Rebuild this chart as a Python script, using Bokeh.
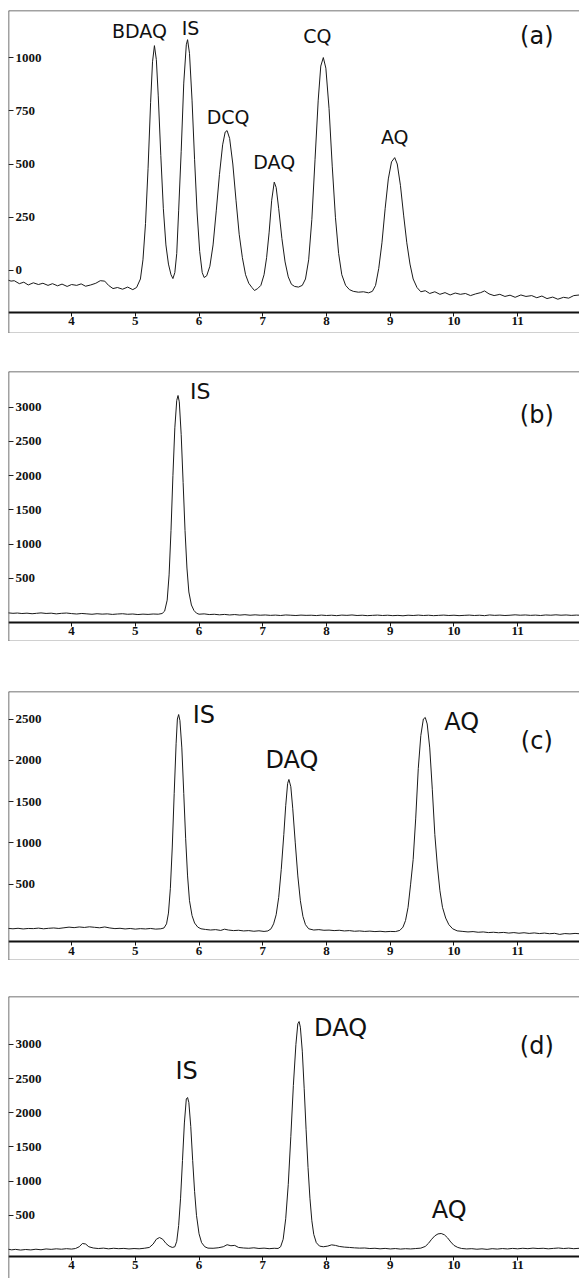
from bokeh.plotting import figure
from bokeh.models import Range1d, LinearAxis, FixedTicker, Span, Label, ColumnDataSource, Grid
from bokeh.layouts import column
from bokeh.embed import file_html
from bokeh.resources import INLINE
from bokeh.core.properties import value

# ---------------- data ----------------
x_ticks = [4, 5, 6, 7, 8, 9, 10, 11]
y_ticks_a = [0, 250, 500, 750, 1000]
y_ticks_b = [500, 1000, 1500, 2000, 2500, 3000]
y_ticks_c = [500, 1000, 1500, 2000, 2500]
y_ticks_d = [500, 1000, 1500, 2000, 2500, 3000]

# (time in min, detector signal)
trace_a = [
    (3.00, -45), (3.05, -50), (3.10, -48), (3.18, -62), (3.25, -55), (3.32, -68), (3.40, -58),
    (3.48, -66), (3.55, -60), (3.63, -70), (3.70, -62), (3.78, -72), (3.85, -64), (3.93, -75),
    (4.00, -66), (4.08, -70), (4.15, -63), (4.22, -74), (4.30, -68), (4.38, -60), (4.45, -48),
    (4.52, -50), (4.58, -70), (4.65, -85), (4.72, -80), (4.80, -88), (4.88, -78), (4.96, -90),
    (5.02, -80), (5.08, -40),
    (5.12, 50), (5.16, 220), (5.20, 480), (5.24, 790), (5.27, 980), (5.30, 1056), (5.33, 990),
    (5.36, 820), (5.40, 540), (5.44, 290), (5.48, 120), (5.52, 30), (5.56, -20), (5.59, -38),
    (5.62, -10), (5.65, 80), (5.68, 280), (5.72, 560), (5.76, 880), (5.80, 1060), (5.82, 1084),
    (5.85, 1020), (5.89, 800), (5.93, 520), (5.97, 270), (6.01, 90), (6.05, -10), (6.08, -33),
    (6.12, -25), (6.17, 20), (6.22, 120), (6.27, 280), (6.32, 450), (6.37, 590), (6.41, 650),
    (6.44, 657), (6.48, 620), (6.53, 500), (6.58, 330), (6.63, 170), (6.68, 60), (6.73, -20),
    (6.78, -60), (6.83, -80), (6.87, -94), (6.92, -85),
    (6.97, -70), (7.02, -20), (7.06, 60), (7.10, 180), (7.14, 330), (7.18, 415), (7.21, 390),
    (7.25, 290), (7.30, 150), (7.35, 40), (7.40, -30), (7.45, -65), (7.50, -75), (7.56, -78),
    (7.62, -70),
    (7.67, -40), (7.72, 50), (7.77, 240), (7.82, 520), (7.87, 800), (7.91, 960), (7.95, 1000),
    (7.99, 950), (8.04, 760), (8.09, 490), (8.14, 250), (8.19, 80), (8.24, -20), (8.30, -70),
    (8.36, -90), (8.42, -98), (8.50, -102), (8.58, -100), (8.66, -105), (8.72, -98),
    (8.77, -70), (8.82, 10), (8.87, 130), (8.92, 290), (8.97, 430), (9.02, 510), (9.07, 530),
    (9.11, 500), (9.16, 400), (9.21, 260), (9.26, 130), (9.31, 30), (9.36, -40), (9.42, -80),
    (9.48, -100),
    (9.55, -95), (9.62, -108), (9.70, -100), (9.78, -112), (9.86, -104), (9.94, -115),
    (10.02, -106), (10.10, -112), (10.18, -108), (10.26, -118), (10.34, -110), (10.42, -104),
    (10.48, -96), (10.55, -110), (10.63, -118), (10.72, -112), (10.80, -122), (10.88, -116),
    (10.96, -126), (11.05, -115), (11.13, -122), (11.22, -118), (11.30, -128), (11.38, -120),
    (11.46, -132), (11.55, -125), (11.63, -135), (11.72, -126), (11.80, -130), (11.88, -118),
    (11.97, -115),
]

trace_b = [
    (3.00, -5), (3.08, -12), (3.15, -8), (3.22, -15), (3.30, -10), (3.38, -18), (3.45, -12),
    (3.52, -6), (3.60, -14), (3.68, -10), (3.76, -20), (3.84, -12), (3.92, -8), (4.00, -16),
    (4.08, -22), (4.16, -14), (4.24, -20), (4.32, -26), (4.40, -18), (4.48, -24), (4.56, -20),
    (4.64, -28), (4.72, -22), (4.80, -18), (4.88, -26), (4.96, -22), (5.04, -30), (5.12, -24),
    (5.20, -28), (5.28, -22), (5.36, -25), (5.42, -15),
    (5.46, 20), (5.50, 180), (5.53, 550), (5.56, 1200), (5.59, 2000), (5.62, 2700), (5.65, 3100),
    (5.67, 3172), (5.69, 3080), (5.72, 2600), (5.75, 1900), (5.78, 1200), (5.81, 650),
    (5.84, 300), (5.88, 110), (5.92, 30), (5.96, -10), (6.00, -25),
    (6.08, -20), (6.16, -30), (6.24, -26), (6.32, -34), (6.40, -28), (6.48, -36), (6.56, -30),
    (6.64, -38), (6.72, -32), (6.80, -40), (6.88, -34), (6.96, -40), (7.04, -36), (7.12, -42),
    (7.20, -38), (7.28, -44), (7.36, -36), (7.44, -40), (7.52, -44), (7.60, -38), (7.68, -42),
    (7.76, -40), (7.84, -45), (7.92, -38), (8.00, -44), (8.08, -40), (8.16, -46), (8.24, -38),
    (8.32, -42), (8.40, -36), (8.48, -44), (8.56, -40), (8.64, -46), (8.72, -42), (8.80, -38),
    (8.88, -44), (8.96, -40), (9.04, -46), (9.12, -42), (9.20, -48), (9.28, -40), (9.36, -44),
    (9.44, -38), (9.52, -44), (9.60, -40), (9.68, -46), (9.76, -42), (9.84, -38), (9.92, -44),
    (10.00, -40), (10.08, -46), (10.16, -42), (10.24, -38), (10.32, -44), (10.40, -40),
    (10.48, -46), (10.56, -36), (10.64, -42), (10.72, -38), (10.80, -44), (10.88, -40),
    (10.96, -34), (11.04, -40), (11.12, -36), (11.20, -42), (11.28, -38), (11.36, -44),
    (11.44, -36), (11.52, -40), (11.60, -34), (11.68, -40), (11.76, -36), (11.84, -42),
    (11.92, -38), (11.97, -40),
]

trace_c = [
    (3.00, -35), (3.08, -40), (3.16, -34), (3.24, -42), (3.32, -36), (3.40, -38), (3.48, -32),
    (3.56, -40), (3.64, -34), (3.72, -30), (3.80, -36), (3.88, -28), (3.96, -20), (4.04, -26),
    (4.12, -18), (4.20, -24), (4.28, -16), (4.36, -22), (4.44, -28), (4.52, -18), (4.60, -30),
    (4.68, -38), (4.76, -34), (4.84, -42), (4.92, -36), (5.00, -44), (5.08, -38), (5.16, -42),
    (5.24, -36), (5.32, -44), (5.40, -40), (5.45, -30),
    (5.49, 20), (5.52, 150), (5.55, 450), (5.58, 950), (5.61, 1600), (5.64, 2200), (5.66, 2500),
    (5.68, 2554), (5.70, 2480), (5.73, 2150), (5.76, 1600), (5.79, 1050), (5.82, 600),
    (5.85, 300), (5.89, 120), (5.93, 30), (5.98, -20), (6.03, -40),
    (6.10, -48), (6.18, -55), (6.26, -50), (6.34, -60), (6.40, -45), (6.46, -55), (6.54, -62),
    (6.62, -58), (6.70, -66), (6.78, -62), (6.86, -70), (6.94, -64), (7.02, -72), (7.08, -66),
    (7.13, -40),
    (7.17, 20), (7.21, 130), (7.25, 340), (7.29, 680), (7.33, 1100), (7.36, 1450), (7.39, 1720),
    (7.41, 1768), (7.44, 1680), (7.47, 1420), (7.51, 1000), (7.55, 600), (7.59, 300),
    (7.63, 110), (7.67, 10), (7.72, -40),
    (7.80, -55), (7.88, -50), (7.96, -58), (8.04, -56), (8.12, -62), (8.20, -58), (8.28, -66),
    (8.36, -62), (8.44, -70), (8.52, -66), (8.60, -72), (8.68, -68), (8.76, -74), (8.84, -70),
    (8.92, -76), (9.00, -72), (9.08, -74), (9.15, -60), (9.20, -20),
    (9.24, 60), (9.28, 220), (9.32, 500), (9.36, 800), (9.40, 1300), (9.44, 1900), (9.48, 2300),
    (9.52, 2500), (9.55, 2518), (9.58, 2440), (9.62, 2150), (9.66, 1650), (9.70, 1100),
    (9.74, 720), (9.78, 420), (9.82, 220), (9.87, 90), (9.92, 10), (9.98, -40),
    (10.05, -65), (10.14, -72), (10.22, -78), (10.30, -74), (10.38, -82), (10.46, -78),
    (10.54, -86), (10.62, -82), (10.70, -88), (10.78, -84), (10.86, -92), (10.94, -86),
    (11.02, -94), (11.10, -88), (11.18, -96), (11.26, -90), (11.34, -98), (11.42, -92),
    (11.50, -100), (11.58, -95), (11.66, -108), (11.74, -98), (11.82, -102), (11.90, -96),
    (11.97, -100),
]

trace_d = [
    (3.00, 5), (3.06, -5), (3.12, 2), (3.20, -8), (3.28, 0), (3.36, -6), (3.44, 4), (3.52, -4),
    (3.60, 8), (3.68, 2), (3.76, 10), (3.84, 4), (3.92, 12), (4.00, 6), (4.06, 14), (4.12, 40),
    (4.17, 88), (4.22, 80), (4.27, 40), (4.34, 22), (4.42, 14), (4.50, 20), (4.58, 10),
    (4.66, 18), (4.74, 12), (4.82, 16), (4.90, 8), (4.98, 14), (5.06, 10), (5.14, 18),
    (5.22, 30), (5.28, 80), (5.33, 150), (5.38, 175), (5.43, 150), (5.48, 90), (5.53, 50),
    (5.58, 30), (5.62, 40),
    (5.65, 120), (5.68, 350), (5.71, 750), (5.74, 1300), (5.77, 1850), (5.80, 2200),
    (5.82, 2222), (5.84, 2150), (5.87, 1800), (5.90, 1300), (5.93, 850), (5.96, 500),
    (6.00, 230), (6.04, 100), (6.09, 40), (6.14, 20),
    (6.22, 18), (6.30, 25), (6.38, 40), (6.44, 70), (6.50, 55), (6.56, 60), (6.62, 30),
    (6.70, 22), (6.78, 18), (6.86, 25), (6.94, 15), (7.02, 20), (7.10, 12), (7.18, 18),
    (7.24, 15), (7.28, 40),
    (7.32, 150), (7.36, 450), (7.40, 950), (7.44, 1650), (7.48, 2400), (7.52, 3000),
    (7.55, 3300), (7.57, 3333), (7.59, 3250), (7.62, 2900), (7.65, 2350), (7.68, 1750),
    (7.71, 1200), (7.74, 750), (7.77, 420), (7.80, 220), (7.84, 100), (7.89, 50),
    (7.95, 40), (8.02, 50), (8.08, 68), (8.14, 60), (8.20, 45), (8.28, 35), (8.36, 30),
    (8.44, 24), (8.52, 20), (8.60, 22), (8.68, 14), (8.76, 18), (8.84, 10), (8.92, 16),
    (9.00, 8), (9.08, 14), (9.16, 6), (9.24, 12), (9.32, 8), (9.40, 14), (9.48, 20), (9.55, 45),
    (9.60, 90), (9.65, 150), (9.70, 200), (9.75, 228), (9.80, 234), (9.85, 215), (9.90, 170),
    (9.95, 110), (10.00, 60), (10.06, 30), (10.12, 15),
    (10.20, 8), (10.28, 12), (10.36, 4), (10.44, 10), (10.52, 2), (10.60, 12), (10.68, 6),
    (10.76, 14), (10.84, 8), (10.92, 16), (11.00, 10), (11.08, 18), (11.16, 12), (11.24, 20),
    (11.32, 14), (11.40, 18), (11.48, 10), (11.56, 16), (11.64, 22), (11.72, 14), (11.80, 20),
    (11.88, 12), (11.97, 18),
]

# peak annotations: name, retention time, apex signal
peaks_a_names = ["BDAQ", "IS", "DCQ", "DAQ", "CQ", "AQ"]
peaks_a_time = [5.30, 5.82, 6.44, 7.18, 7.95, 9.07]
peaks_a_height = [1056, 1084, 657, 415, 1000, 530]

peaks_b_names = ["IS"]
peaks_b_time = [5.67]
peaks_b_height = [3172]

peaks_c_names = ["IS", "DAQ", "AQ"]
peaks_c_time = [5.68, 7.41, 9.55]
peaks_c_height = [2554, 1768, 2518]

peaks_d_names = ["IS", "DAQ", "AQ"]
peaks_d_time = [5.82, 7.57, 9.80]
peaks_d_height = [2222, 3333, 234]

panel_letters = ["(a)", "(b)", "(c)", "(d)"]

# ---------------- styling / layout ----------------
# per-label placement (pixel offsets from the apex, alignment)
label_style_a = [(-15, -15, "center"), (3, -12, "center"), (1, -14, "center"),
                 (0, -20, "center"), (-6, -22, "center"), (0, -21, "center")]
label_style_b = [(12, -4, "left")]
label_style_c = [(14, 0, "left"), (3, -19, "center"), (19, 4, "left")]
label_style_d = [(-1, -27, "center"), (15, 6, "left"), (8, -23, "center")]

X_START, X_END = 3.01, 11.97
W = 579


def make_panel(trace, yr, axis_y, yticks, names, times, heights, styles, label_size,
               letter, letter_y, height, top_gap, bottom_border=True):
    p = figure(width=W, height=height, x_range=Range1d(X_START, X_END),
               y_range=Range1d(*yr), x_axis_location=None, y_axis_location=None,
               toolbar_location=None, output_backend="svg",
               min_border_left=8, min_border_right=0, min_border_top=top_gap,
               min_border_bottom=0, outline_line_color=None,
               background_fill_color="white", border_fill_color="white")
    p.title.visible = False
    for g in p.select(type=Grid):
        g.visible = False
        g.grid_line_color = None

    xaxis = LinearAxis(fixed_location=axis_y, ticker=FixedTicker(ticks=x_ticks),
                       axis_line_width=2, axis_line_color="#111",
                       major_tick_out=4, major_tick_in=0, major_tick_line_color="#111",
                       minor_tick_line_color=None, major_label_standoff=1,
                       major_label_text_font="Liberation Serif",
                       major_label_text_font_style="bold",
                       major_label_text_font_size="13px",
                       major_label_text_color="#111")
    p.add_layout(xaxis, "below")

    yaxis = LinearAxis(fixed_location=X_START, ticker=FixedTicker(ticks=yticks),
                       axis_line_width=1.5, axis_line_color="#444",
                       major_tick_out=5, major_tick_in=0, major_tick_line_color="#222",
                       minor_tick_line_color=None, major_label_standoff=2,
                       major_label_text_font="Liberation Serif",
                       major_label_text_font_style="bold",
                       major_label_text_font_size="13px",
                       major_label_text_color="#111")
    p.add_layout(yaxis, "right")

    p.add_layout(Span(location=yr[1], dimension="width", line_color="#444", line_width=1.5))
    if bottom_border:
        p.add_layout(Span(location=yr[0], dimension="width", line_color="#444", line_width=1.5))

    t, s = zip(*trace)
    src = ColumnDataSource(data=dict(t=list(t), s=list(s)))
    p.line("t", "s", source=src, line_color="#1a1a1a", line_width=1)

    for name, tm, h, (dx, dy, al) in zip(names, times, heights, styles):
        p.text(x=[tm], y=[h], text=[name], x_offset=dx, y_offset=dy,
               text_align=al, text_baseline="alphabetic",
               text_font=value("DejaVu Sans"), text_font_size=label_size,
               text_color="#111")

    p.add_layout(Label(x=11.30, y=letter_y, text=letter, text_align="center",
                       text_baseline="middle", text_font="DejaVu Sans",
                       text_font_size="24px", text_color="#111"))
    return p


pa = make_panel(trace_a, (-296, 1221), -197, y_ticks_a, peaks_a_names, peaks_a_time,
                peaks_a_height, label_style_a, "19px", panel_letters[0], 1103, 333, 10)
pb = make_panel(trace_b, (-424, 3523), -146, y_ticks_b, peaks_b_names, peaks_b_time,
                peaks_b_height, label_style_b, "22px", panel_letters[1], 2880, 308, 38)
pc = make_panel(trace_c, (-424, 2833), -194, y_ticks_c, peaks_c_names, peaks_c_time,
                peaks_c_height, label_style_c, "24px", panel_letters[2], 2228, 319, 50)
pd = make_panel(trace_d, (-424, 3699), -102, y_ticks_d, peaks_d_names, peaks_d_time,
                peaks_d_height, label_style_d, "24px", panel_letters[3], 2982, 318, 36,
                bottom_border=False)

layout = column(pa, pb, pc, pd, spacing=0)
open("out.html", "w").write(file_html(layout, INLINE))
